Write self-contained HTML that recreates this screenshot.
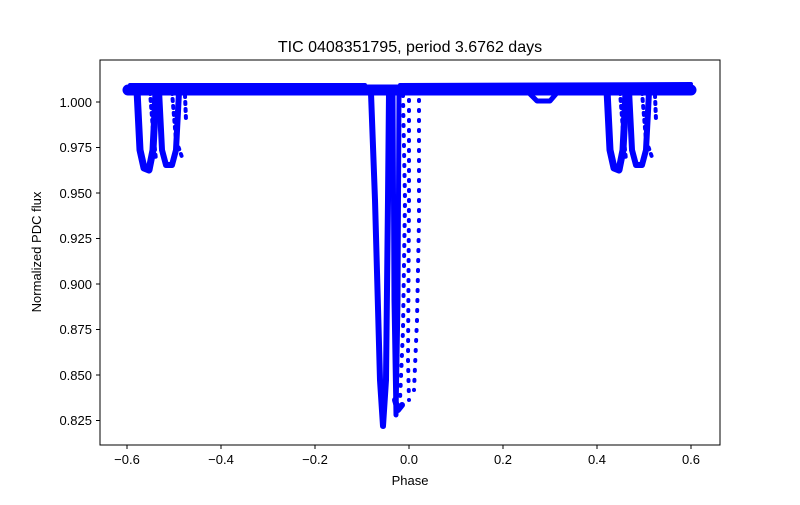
<!DOCTYPE html>
<html><head><style>body{margin:0;background:#fff}svg{font-family:"Liberation Sans",sans-serif}</style></head><body>
<svg width="800" height="500" xmlns="http://www.w3.org/2000/svg">
<rect width="800" height="500" fill="#fff"/>
<text x="410" y="52" font-size="16" text-anchor="middle">TIC 0408351795, period 3.6762 days</text>
<g fill="none" stroke="#0000ff" stroke-linecap="round" stroke-linejoin="round">
<path d="M128,90 L691,90" stroke-width="11"/>
<path d="M130,85 L365,85 M400,85 L691,84" stroke-width="4"/>
<path d="M530,94 L537,101 L550,101 L556,94" stroke-width="5"/>
<path d="M137,90 L140,150 L144,168 L149,170 L153,150 L156,92" stroke-width="7"/>
<path d="M159,90 L162,150 L166,165 L172,165 L176,150 L179,92" stroke-width="6"/>
<path d="M150,92 L153,130 L156,160 M172,92 L176,140 L183,160 M185,95 L186,120" stroke-width="4" stroke-dasharray="2 5"/>
<path d="M607,90 L610,150 L614,168 L619,170 L623,150 L626,92" stroke-width="7"/>
<path d="M629,90 L632,150 L636,165 L642,165 L646,150 L649,92" stroke-width="6"/>
<path d="M620,92 L623,130 L626,160 M642,92 L646,140 L653,160 M655,95 L656,120" stroke-width="4" stroke-dasharray="2 5"/>
<path d="M371,93 L375,200 L380,380 L383,426 L386,380 L388,200 L389,93" stroke-width="6"/>
<path d="M393,93 L394,300 L396,415 L398,300 L399,93" stroke-width="5"/>
<path d="M403,95 L405,200 L403,330 L400,400 M409,100 L409,200 L408,360 L409,400 M419,100 L419,220 L417,320 L414,390" stroke-width="4" stroke-dasharray="1 9"/>
<path d="M395,400 L398,410 L402,405" stroke-width="6"/>
</g>
<g fill="none" stroke="#000" stroke-width="1">
<rect x="100" y="60" width="620" height="385"/>
<path d="M127,445v4M221,445v4M315,445v4M409,445v4M503,445v4M597,445v4M691,445v4"/>
<path d="M100,102h-4M100,147.5h-4M100,193h-4M100,238.5h-4M100,284h-4M100,329.5h-4M100,375h-4M100,420.5h-4"/>
</g>
<g font-size="13" text-anchor="middle">
<text x="127" y="464">−0.6</text><text x="221" y="464">−0.4</text><text x="315" y="464">−0.2</text><text x="409" y="464">0.0</text><text x="503" y="464">0.2</text><text x="597" y="464">0.4</text><text x="691" y="464">0.6</text>
<text x="410" y="485">Phase</text>
</g>
<g font-size="13" text-anchor="end">
<text x="92" y="107">1.000</text><text x="92" y="152">0.975</text><text x="92" y="198">0.950</text><text x="92" y="243">0.925</text><text x="92" y="289">0.900</text><text x="92" y="334">0.875</text><text x="92" y="380">0.850</text><text x="92" y="425">0.825</text>
</g>
<text transform="translate(41,252) rotate(-90)" font-size="13" text-anchor="middle">Normalized PDC flux</text>
</svg>
</body></html>
